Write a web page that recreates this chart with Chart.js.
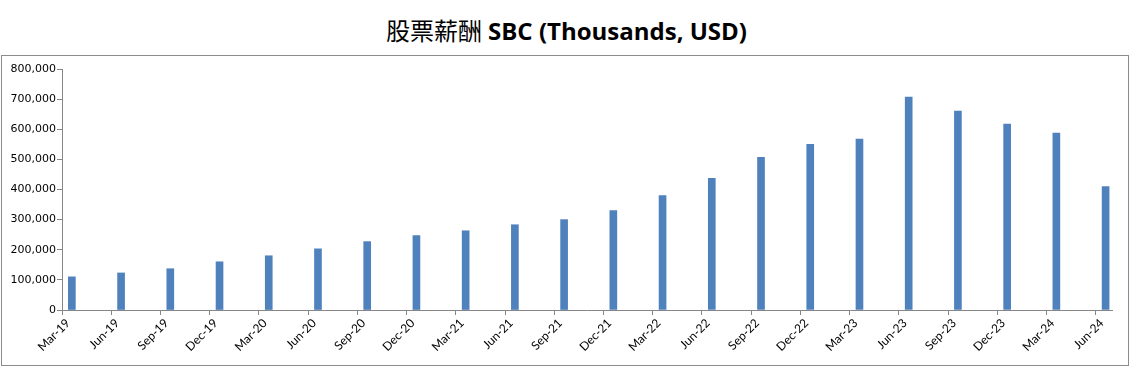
<!DOCTYPE html>
<html>
<head>
<meta charset="utf-8">
<script src="https://cdn.jsdelivr.net/npm/chart.js@4/dist/chart.umd.min.js"></script>
<style>
  body { margin: 0; background: #fff; width: 1133px; height: 367px; overflow: hidden; }
  #title {
    position: absolute; left: 0; top: 12px; width: 1133px; text-align: center;
    font-size: 24px; line-height: 36px; color: #000;
  }
  #title .zh { font-family: "Noto Sans CJK TC", "Noto Sans CJK SC", sans-serif; font-weight: 400; }
  #title .en { font-family: "Open Sans", "Noto Sans", sans-serif; font-weight: 700; }
  #box {
    position: absolute; left: 1px; top: 55px; width: 1126px; height: 309px;
    border: 1px solid #8c8c8c;
  }
</style>
</head>
<body>
<div id="title"><span class="zh">股票薪酬</span> <span class="en">SBC (Thousands, USD)</span></div>
<div id="box"><canvas id="myChart"></canvas></div>
<script>
var quarters = ['Mar-19', 'Jun-19', 'Sep-19', 'Dec-19', 'Mar-20', 'Jun-20', 'Sep-20', 'Dec-20',
    'Mar-21', 'Jun-21', 'Sep-21', 'Dec-21', 'Mar-22', 'Jun-22', 'Sep-22', 'Dec-22',
    'Mar-23', 'Jun-23', 'Sep-23', 'Dec-23', 'Mar-24', 'Jun-24'];
var sbc = [110000, 123000, 137000, 160000, 180000, 203000, 227000, 247000,
    263000, 283000, 300000, 330000, 380000, 437000, 507000, 550000,
    567000, 707000, 660000, 617000, 587000, 410000];
var yTicks = [0, 100000, 200000, 300000, 400000, 500000, 600000, 700000, 800000];

// bars sit a little right of their tick, like the Excel date axis
var barShift = 0.2;
var axisGray = '#868686';

var ctx = document.getElementById('myChart').getContext('2d');
var myChart = new Chart(ctx, {
    type: 'bar',
    data: {
        datasets: [{
            data: sbc.map(function (v, i) { return { x: i + barShift, y: v }; }),
            backgroundColor: '#4F81BD',
            borderWidth: 0,
            barThickness: 7
        }]
    },
    options: {
        responsive: true,
        maintainAspectRatio: false,
        animation: false,
        layout: { padding: { top: 13, right: 16, left: 0, bottom: 0 } },
        plugins: { legend: { display: false }, tooltip: { enabled: false } },
        scales: {
            x: {
                type: 'linear',
                offset: false,
                min: 0,
                max: 21.33,
                afterFit: function (scale) { scale.height = 55; },
                grid: { drawOnChartArea: false, tickLength: 5, color: axisGray, offset: false },
                border: { color: axisGray },
                ticks: {
                    stepSize: 1,
                    includeBounds: false,
                    autoSkip: false,
                    maxRotation: 45,
                    minRotation: 45,
                    padding: 1,
                    labelOffset: 6,
                    color: '#000',
                    font: { family: 'Lato', size: 12 },
                    callback: function (value) {
                        return Number.isInteger(value) ? quarters[value] : '';
                    }
                }
            },
            y: {
                min: 0,
                max: 800000,
                afterBuildTicks: function (scale) {
                    scale.ticks = yTicks.map(function (v) { return { value: v }; });
                },
                afterFit: function (scale) { scale.width = 60; },
                grid: { drawOnChartArea: false, tickLength: 5, color: axisGray },
                border: { color: axisGray },
                ticks: {
                    padding: 1,
                    color: '#000',
                    font: { family: 'DejaVu Sans', size: 11 },
                    callback: function (value) { return value.toLocaleString('en-US'); }
                }
            }
        }
    }
});
</script>
</body>
</html>
